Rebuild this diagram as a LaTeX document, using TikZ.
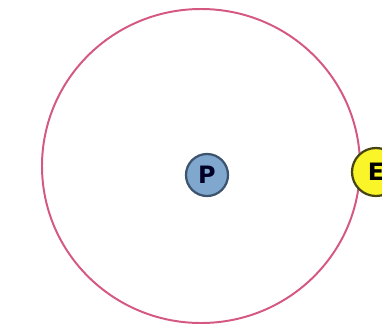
\documentclass[tikz,border=0pt]{standalone}
\usepackage{fontspec}
\setsansfont{DejaVu Sans}
\definecolor{orbitred}{RGB}{212,88,128}
\definecolor{protonblue}{RGB}{128,168,206}
\definecolor{protonedge}{RGB}{60,84,110}
\definecolor{electronyellow}{RGB}{250,245,40}
\definecolor{electronedge}{RGB}{70,70,20}
\tikzset{
  particle/.style={circle, line width=1.6pt, inner sep=0pt,
    font=\sffamily\bfseries\fontsize{17}{17}\selectfont},
  proton/.style={particle, draw=protonedge, fill=protonblue, text=black!85!blue, minimum size=1.05cm},
  electron/.style={particle, draw=electronedge, fill=electronyellow, text=black, minimum size=1.2cm}
}
\begin{document}
\begin{tikzpicture}[x=0.025cm, y=-0.025cm]
    \useasboundingbox (0,0) rectangle (382,332);
    \clip (0,0) rectangle (382,332);

    % 軌道
    \draw[orbitred, line width=1.4pt] (201,166) ellipse (159 and 157);

    % 陽子
    \node[proton] (P) at (207,175) {P};

    % 電子
    \node[electron] (E) at (376,172) {E};
  \end{tikzpicture}
\end{document}
